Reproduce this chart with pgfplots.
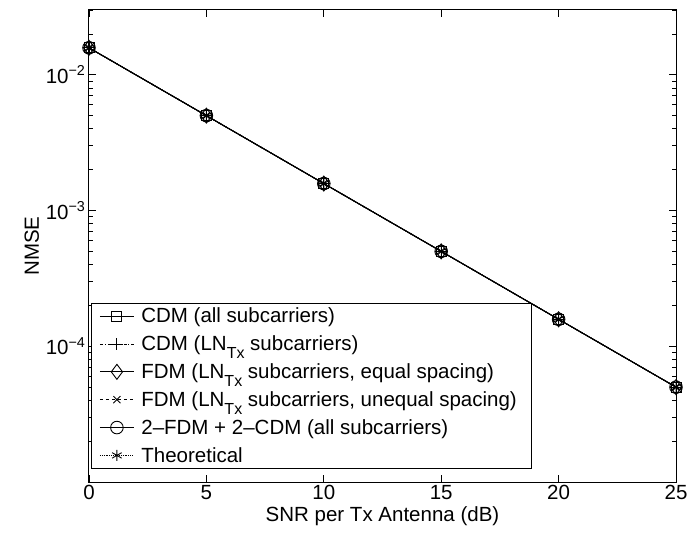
\documentclass[border=0pt]{standalone}
\usepackage{pgfplots}
\pgfplotsset{compat=1.18}
\usepackage{fontspec}
\setmainfont{Liberation Sans}
% MATLAB-like subscript: larger and lower than \textsubscript
\newcommand{\sub}[1]{\raisebox{-0.38em}{\fontsize{16bp}{16bp}\selectfont #1}}

\begin{document}
\begin{tikzpicture}[font=\fontsize{20.5bp}{24bp}\selectfont]
\begin{axis}[
  scale only axis,
  width=587bp, height=472bp,
  ymode=log,
  xmin=0, xmax=25,
  ymin=1e-5, ymax=0.03,
  xtick={0,5,10,15,20,25},
  ytick={1e-4,1e-3,1e-2},
  yticklabels={10\textsuperscript{−4},10\textsuperscript{−3},10\textsuperscript{−2}},
  minor ytick={2e-5,3e-5,4e-5,5e-5,6e-5,7e-5,8e-5,9e-5,
               2e-4,3e-4,4e-4,5e-4,6e-4,7e-4,8e-4,9e-4,
               2e-3,3e-3,4e-3,5e-3,6e-3,7e-3,8e-3,9e-3,2e-2,3e-2},
  /pgf/number format/assume math mode=true,
  major tick length=7bp, minor tick length=4bp,
  tick style={black, line width=0.8bp},
  axis line style={line width=1bp},
  xlabel={SNR per Tx Antenna (dB)},
  ylabel={NMSE},
  every axis plot/.append style={black, line width=0.9bp},
  legend cell align=left,
  legend style={at={(0.0034,0.0275)}, anchor=south west, draw=black,
    line width=0.9bp, inner xsep=8bp, inner ysep=3bp, row sep=7.5bp,
    nodes={inner xsep=7bp, inner ysep=2bp}},
  legend image code/.code={
    \draw[mark repeat=2, mark phase=2] plot coordinates {(0.1cm,0cm) (0.7cm,0cm) (1.3cm,0cm)};},
]
\addplot[solid, mark=square, mark size=5bp, mark options={solid}] coordinates {
  (0,0.0158) (5,0.0050) (10,0.00158) (15,0.00050) (20,0.000158) (25,0.0000500)};
\addlegendentry{CDM (all subcarriers)}
\addplot[dashdotted, mark=+, mark size=6bp, mark options={solid}] coordinates {
  (0,0.0158) (5,0.0050) (10,0.00158) (15,0.00050) (20,0.000158) (25,0.0000500)};
\addlegendentry{CDM (LN\sub{Tx} subcarriers)}
\addplot[solid, mark=diamond, mark size=7.5bp, mark options={solid}] coordinates {
  (0,0.0158) (5,0.0050) (10,0.00158) (15,0.00050) (20,0.000158) (25,0.0000500)};
\addlegendentry{FDM (LN\sub{Tx} subcarriers, equal spacing)}
\addplot[dashed, mark=x, mark size=5bp, mark options={solid}] coordinates {
  (0,0.0158) (5,0.0050) (10,0.00158) (15,0.00050) (20,0.000158) (25,0.0000500)};
\addlegendentry{FDM (LN\sub{Tx} subcarriers, unequal spacing)}
\addplot[solid, mark=o, mark size=6.3bp, mark options={solid}] coordinates {
  (0,0.0158) (5,0.0050) (10,0.00158) (15,0.00050) (20,0.000158) (25,0.0000500)};
\addlegendentry{2--FDM + 2--CDM (all subcarriers)}
\addplot[densely dotted, mark=asterisk, mark size=5.5bp, mark options={solid}] coordinates {
  (0,0.0158) (5,0.0050) (10,0.00158) (15,0.00050) (20,0.000158) (25,0.0000500)};
\addlegendentry{Theoretical}
\end{axis}
\pgfresetboundingbox
\path[use as bounding box] ([xshift=-89bp,yshift=-54bp]current axis.south west)
  rectangle ([xshift=24bp,yshift=10bp]current axis.north east);
\end{tikzpicture}
\end{document}
